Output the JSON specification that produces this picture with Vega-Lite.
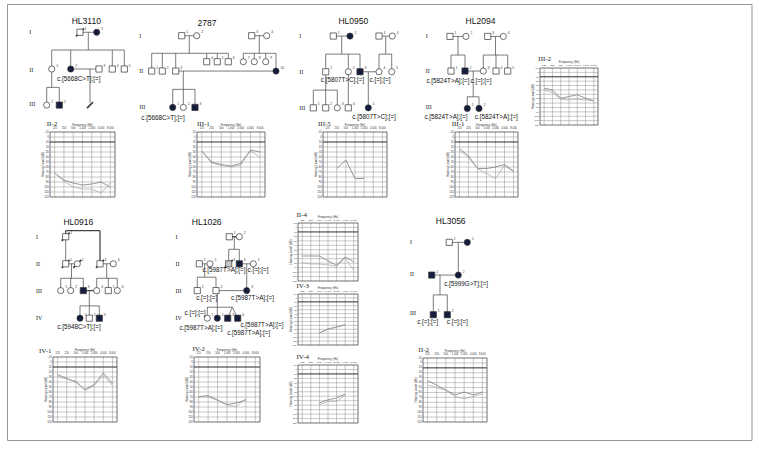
{
"$schema": "https://vega.github.io/schema/vega-lite/v6.json",
"width": 759,
"height": 449,
"autosize": {"type": "none"},
"padding": 0,
"background": "white",
"config": {"view": {"stroke": null}, "font": "Liberation Sans"},
"resolve": {"scale": {"x": "independent", "y": "independent"}},
"datasets": {
 "e": [{}],
 "freqs": [{"hz":125},{"hz":250},{"hz":500},{"hz":1000},{"hz":2000},{"hz":4000},{"hz":8000}],
 "levels": [{"db":0},{"db":10},{"db":20},{"db":30},{"db":40},{"db":50},{"db":60},{"db":70},{"db":80},{"db":90},{"db":100},{"db":110}],
 "ylabels": [{"db":-10},{"db":0},{"db":10},{"db":20},{"db":30},{"db":40},{"db":50},{"db":60},{"db":70},{"db":80},{"db":90},{"db":100},{"db":110},{"db":120}],
 "topLines": [
  {"x":80,"y":0.925,"x2":96.7,"y2":0.925,"rel":"line"},
  {"x":88.3,"y":0.925,"x2":88.3,"y2":1.417,"rel":"line"},
  {"x":51.7,"y":1.417,"x2":124.3,"y2":1.417,"rel":"line"},
  {"x":51.7,"y":1.417,"x2":51.7,"y2":1.944,"rel":"line"},
  {"x":70.7,"y":1.417,"x2":70.7,"y2":1.944,"rel":"line"},
  {"x":112.3,"y":1.417,"x2":112.3,"y2":1.944,"rel":"line"},
  {"x":124.3,"y":1.417,"x2":124.3,"y2":1.944,"rel":"line"},
  {"x":70.7,"y":1.944,"x2":99,"y2":1.944,"rel":"line"},
  {"x":90,"y":1.944,"x2":90,"y2":2.88,"rel":"line"},
  {"x":51.7,"y":1.944,"x2":51.7,"y2":2.453,"rel":"line"},
  {"x":46.7,"y":2.453,"x2":59.3,"y2":2.453,"rel":"line"},
  {"x":46.7,"y":2.453,"x2":46.7,"y2":2.944,"rel":"line"},
  {"x":59.3,"y":2.453,"x2":59.3,"y2":2.944,"rel":"line"},
  {"x":76,"y":1.036,"x2":84,"y2":0.814,"rel":"slash"},
  {"x":87,"y":3.03,"x2":93,"y2":2.86,"rel":"slash"},
  {"x":181.7,"y":1.02,"x2":196.7,"y2":1.02,"rel":"line"},
  {"x":251.7,"y":1.02,"x2":266.7,"y2":1.02,"rel":"line"},
  {"x":189.3,"y":1.02,"x2":189.3,"y2":1.508,"rel":"line"},
  {"x":259.3,"y":1.02,"x2":259.3,"y2":1.508,"rel":"line"},
  {"x":151.7,"y":1.508,"x2":228.3,"y2":1.508,"rel":"line"},
  {"x":243.3,"y":1.508,"x2":276,"y2":1.508,"rel":"line"},
  {"x":151.7,"y":1.508,"x2":151.7,"y2":2,"rel":"line"},
  {"x":162.3,"y":1.508,"x2":162.3,"y2":2,"rel":"line"},
  {"x":175.7,"y":1.508,"x2":175.7,"y2":2,"rel":"line"},
  {"x":206.7,"y":1.508,"x2":206.7,"y2":1.742,"rel":"line"},
  {"x":217.3,"y":1.508,"x2":217.3,"y2":1.742,"rel":"line"},
  {"x":228.3,"y":1.508,"x2":228.3,"y2":1.742,"rel":"line"},
  {"x":243.3,"y":1.508,"x2":243.3,"y2":1.742,"rel":"line"},
  {"x":254.3,"y":1.508,"x2":254.3,"y2":1.742,"rel":"line"},
  {"x":265.7,"y":1.508,"x2":265.7,"y2":1.742,"rel":"line"},
  {"x":276,"y":1.508,"x2":276,"y2":2,"rel":"line"},
  {"x":175.7,"y":2,"x2":276,"y2":2,"rel":"line"},
  {"x":183.3,"y":2,"x2":183.3,"y2":2.508,"rel":"line"},
  {"x":172.7,"y":2.508,"x2":195,"y2":2.508,"rel":"line"},
  {"x":172.7,"y":2.508,"x2":172.7,"y2":3.008,"rel":"line"},
  {"x":183.3,"y":2.508,"x2":183.3,"y2":3.008,"rel":"line"},
  {"x":195,"y":2.508,"x2":195,"y2":3.008,"rel":"line"},
  {"x":333.3,"y":1.03,"x2":350,"y2":1.03,"rel":"line"},
  {"x":379,"y":1.03,"x2":392.3,"y2":1.03,"rel":"line"},
  {"x":341.7,"y":1.03,"x2":341.7,"y2":1.53,"rel":"line"},
  {"x":385.7,"y":1.03,"x2":385.7,"y2":1.53,"rel":"line"},
  {"x":325.7,"y":1.53,"x2":360,"y2":1.53,"rel":"line"},
  {"x":379,"y":1.53,"x2":391.7,"y2":1.53,"rel":"line"},
  {"x":325.7,"y":1.53,"x2":325.7,"y2":2.02,"rel":"line"},
  {"x":348.3,"y":1.53,"x2":348.3,"y2":2.02,"rel":"line"},
  {"x":360,"y":1.53,"x2":360,"y2":2.02,"rel":"line"},
  {"x":379,"y":1.53,"x2":379,"y2":2.02,"rel":"line"},
  {"x":391.7,"y":1.53,"x2":391.7,"y2":2.02,"rel":"line"},
  {"x":360,"y":2.02,"x2":379,"y2":2.02,"rel":"line"},
  {"x":368.3,"y":2.02,"x2":368.3,"y2":3.02,"rel":"line"},
  {"x":325.7,"y":2.02,"x2":325.7,"y2":3.02,"rel":"line"},
  {"x":313.3,"y":2.528,"x2":337.3,"y2":2.528,"rel":"line"},
  {"x":313.3,"y":2.528,"x2":313.3,"y2":3.02,"rel":"line"},
  {"x":337.3,"y":2.528,"x2":337.3,"y2":3.02,"rel":"line"},
  {"x":348.3,"y":2.02,"x2":348.3,"y2":3.02,"rel":"line"},
  {"x":450,"y":1.04,"x2":466,"y2":1.04,"rel":"line"},
  {"x":487.7,"y":1.04,"x2":503.3,"y2":1.04,"rel":"line"},
  {"x":458,"y":1.04,"x2":458,"y2":1.556,"rel":"line"},
  {"x":495.5,"y":1.04,"x2":495.5,"y2":1.556,"rel":"line"},
  {"x":451,"y":1.556,"x2":465,"y2":1.556,"rel":"line"},
  {"x":483.3,"y":1.556,"x2":507.7,"y2":1.556,"rel":"line"},
  {"x":451,"y":1.556,"x2":451,"y2":2,"rel":"line"},
  {"x":465,"y":1.556,"x2":465,"y2":2,"rel":"line"},
  {"x":483.3,"y":1.556,"x2":483.3,"y2":2,"rel":"line"},
  {"x":496,"y":1.556,"x2":496,"y2":2,"rel":"line"},
  {"x":507.7,"y":1.556,"x2":507.7,"y2":2,"rel":"line"},
  {"x":465,"y":2,"x2":483.3,"y2":2,"rel":"line"},
  {"x":473.2,"y":2,"x2":473.2,"y2":2.714,"rel":"line"},
  {"x":467.3,"y":2.714,"x2":479,"y2":2.714,"rel":"line"},
  {"x":467.3,"y":2.714,"x2":467.3,"y2":3.036,"rel":"line"},
  {"x":479,"y":2.714,"x2":479,"y2":3.036,"rel":"line"}
 ],
 "topPeople": [
  {"x":80,"y":0.925,"sex":"M","st":"U","id":"1"},
  {"x":96.7,"y":0.925,"sex":"F","st":"A","id":"2"},
  {"x":51.7,"y":1.944,"sex":"F","st":"U","id":"1"},
  {"x":70.7,"y":1.944,"sex":"F","st":"A","id":"2"},
  {"x":99,"y":1.944,"sex":"M","st":"U","id":"3"},
  {"x":112.3,"y":1.944,"sex":"M","st":"U","id":"4"},
  {"x":124.3,"y":1.944,"sex":"M","st":"U","id":"5"},
  {"x":46.7,"y":2.944,"sex":"F","st":"U","id":"1"},
  {"x":59.3,"y":2.944,"sex":"M","st":"A","id":"2"},
  {"x":181.7,"y":1.02,"sex":"M","st":"U","id":"1"},
  {"x":196.7,"y":1.02,"sex":"F","st":"U","id":"2"},
  {"x":251.7,"y":1.02,"sex":"M","st":"U","id":"3"},
  {"x":266.7,"y":1.02,"sex":"F","st":"U","id":"4"},
  {"x":151.7,"y":2,"sex":"M","st":"U","id":"1"},
  {"x":162.3,"y":2,"sex":"M","st":"U","id":"2"},
  {"x":175.7,"y":2,"sex":"M","st":"U","id":"3"},
  {"x":206.7,"y":1.742,"sex":"M","st":"U","id":"4"},
  {"x":217.3,"y":1.742,"sex":"M","st":"U","id":"5"},
  {"x":228.3,"y":1.742,"sex":"M","st":"U","id":"6"},
  {"x":243.3,"y":1.742,"sex":"F","st":"U","id":"7"},
  {"x":254.3,"y":1.742,"sex":"F","st":"U","id":"8"},
  {"x":265.7,"y":1.742,"sex":"F","st":"U","id":"9"},
  {"x":276,"y":2,"sex":"F","st":"A","id":"10"},
  {"x":172.7,"y":3.008,"sex":"F","st":"A","id":"1"},
  {"x":183.3,"y":3.008,"sex":"F","st":"U","id":"2"},
  {"x":195,"y":3.008,"sex":"M","st":"A","id":"3"},
  {"x":333.3,"y":1.03,"sex":"M","st":"U","id":"1"},
  {"x":350,"y":1.03,"sex":"F","st":"A","id":"2"},
  {"x":379,"y":1.03,"sex":"M","st":"U","id":"3"},
  {"x":392.3,"y":1.03,"sex":"F","st":"U","id":"4"},
  {"x":325.7,"y":2.02,"sex":"M","st":"U","id":"1"},
  {"x":348.3,"y":2.02,"sex":"F","st":"U","id":"2"},
  {"x":360,"y":2.02,"sex":"M","st":"A","id":"3"},
  {"x":379,"y":2.02,"sex":"F","st":"U","id":"4"},
  {"x":391.7,"y":2.02,"sex":"F","st":"U","id":"5"},
  {"x":313.3,"y":3.02,"sex":"M","st":"U","id":"1"},
  {"x":325.7,"y":3.02,"sex":"M","st":"U","id":"2"},
  {"x":337.3,"y":3.02,"sex":"F","st":"U","id":"3"},
  {"x":348.3,"y":3.02,"sex":"M","st":"U","id":"4"},
  {"x":368.3,"y":3.02,"sex":"F","st":"A","id":"5"},
  {"x":450,"y":1.04,"sex":"M","st":"U","id":"1"},
  {"x":466,"y":1.04,"sex":"F","st":"U","id":"2"},
  {"x":487.7,"y":1.04,"sex":"M","st":"U","id":"3"},
  {"x":503.3,"y":1.04,"sex":"F","st":"U","id":"4"},
  {"x":451,"y":2,"sex":"M","st":"U","id":"1"},
  {"x":465,"y":2,"sex":"M","st":"A","id":"2"},
  {"x":483.3,"y":2,"sex":"F","st":"U","id":"3"},
  {"x":496,"y":2,"sex":"M","st":"U","id":"4"},
  {"x":507.7,"y":2,"sex":"M","st":"U","id":"5"},
  {"x":467.3,"y":3.036,"sex":"F","st":"A","id":"1"},
  {"x":479,"y":3.036,"sex":"F","st":"A","id":"2"}
 ],
 "topText": [
  {"x":86.3,"y":0.603,"t":"HL3110","k":"title"},
  {"x":207,"y":0.658,"t":"2787","k":"title"},
  {"x":353.3,"y":0.603,"t":"HL0950","k":"title"},
  {"x":480.5,"y":0.603,"t":"HL2094","k":"title"},
  {"x":29.3,"y":0.925,"t":"I","k":"gen"},
  {"x":29.3,"y":1.972,"t":"II","k":"gen"},
  {"x":29.3,"y":2.917,"t":"III","k":"gen"},
  {"x":139.3,"y":1.02,"t":"I","k":"gen"},
  {"x":139.3,"y":2.0,"t":"II","k":"gen"},
  {"x":139.3,"y":2.99,"t":"III","k":"gen"},
  {"x":299.3,"y":1.03,"t":"I","k":"gen"},
  {"x":299.3,"y":2.02,"t":"II","k":"gen"},
  {"x":299.3,"y":3.02,"t":"III","k":"gen"},
  {"x":425.7,"y":1.04,"t":"I","k":"gen"},
  {"x":425.7,"y":2.0,"t":"II","k":"gen"},
  {"x":425.7,"y":2.99,"t":"III","k":"gen"},
  {"x":78.7,"y":2.222,"t":"c.[5668C>T];[=]","k":"geno"},
  {"x":163,"y":3.314,"t":"c.[5668C>T];[=]","k":"geno"},
  {"x":342.5,"y":2.25,"t":"c.[5807T>C];[=]","k":"geno"},
  {"x":380,"y":2.25,"t":"c.[=];[=]","k":"geno"},
  {"x":374,"y":3.27,"t":"c.[5807T>C];[=]","k":"geno"},
  {"x":448,"y":2.27,"t":"c.[5824T>A];[=]","k":"geno"},
  {"x":481,"y":2.27,"t":"c.[=];[=]","k":"geno"},
  {"x":446,"y":3.286,"t":"c.[5824T>A];[=]","k":"geno"},
  {"x":496.3,"y":3.286,"t":"c.[5824T>A];[=]","k":"geno"}
 ],
 "botLines": [
  {"x":65.7,"y":0.765,"x2":100,"y2":0.765,"rel":"consang"},
  {"x":100,"y":0.765,"x2":100,"y2":2,"rel":"consang"},
  {"x":65.7,"y":0.765,"x2":65.7,"y2":0.99,"rel":"consang"},
  {"x":65.7,"y":0.99,"x2":65.7,"y2":2,"rel":"line"},
  {"x":65.7,"y":2,"x2":77.3,"y2":2,"rel":"line"},
  {"x":100,"y":2,"x2":113.3,"y2":2,"rel":"line"},
  {"x":71.5,"y":2,"x2":71.5,"y2":2.54,"rel":"line"},
  {"x":106.7,"y":2,"x2":106.7,"y2":2.54,"rel":"line"},
  {"x":60.7,"y":2.54,"x2":83.3,"y2":2.54,"rel":"line"},
  {"x":96.7,"y":2.54,"x2":117.3,"y2":2.54,"rel":"line"},
  {"x":60.7,"y":2.54,"x2":60.7,"y2":3,"rel":"line"},
  {"x":70.7,"y":2.54,"x2":70.7,"y2":3,"rel":"line"},
  {"x":83.3,"y":2.54,"x2":83.3,"y2":3,"rel":"line"},
  {"x":96.7,"y":2.54,"x2":96.7,"y2":3,"rel":"line"},
  {"x":108.3,"y":2.54,"x2":108.3,"y2":3,"rel":"line"},
  {"x":117.3,"y":2.54,"x2":117.3,"y2":3,"rel":"line"},
  {"x":83.3,"y":3,"x2":96.7,"y2":3,"rel":"consang"},
  {"x":89.3,"y":3,"x2":89.3,"y2":3.57,"rel":"line"},
  {"x":80,"y":3.57,"x2":99.3,"y2":3.57,"rel":"line"},
  {"x":80,"y":3.57,"x2":80,"y2":4.03,"rel":"line"},
  {"x":89.3,"y":3.57,"x2":89.3,"y2":4.03,"rel":"line"},
  {"x":99.3,"y":3.57,"x2":99.3,"y2":4.03,"rel":"line"},
  {"x":61.7,"y":1.14,"x2":69.7,"y2":0.84,"rel":"slash"},
  {"x":61.7,"y":2.15,"x2":69.7,"y2":1.85,"rel":"slash"},
  {"x":73.3,"y":2.15,"x2":81.3,"y2":1.85,"rel":"slash"},
  {"x":96,"y":2.15,"x2":104,"y2":1.85,"rel":"slash"},
  {"x":229.3,"y":0.99,"x2":239.3,"y2":0.99,"rel":"consang"},
  {"x":234.3,"y":0.99,"x2":234.3,"y2":1.46,"rel":"line"},
  {"x":228.7,"y":1.46,"x2":239.3,"y2":1.46,"rel":"line"},
  {"x":228.7,"y":1.46,"x2":228.7,"y2":2,"rel":"line"},
  {"x":239.3,"y":1.46,"x2":239.3,"y2":2,"rel":"line"},
  {"x":199.3,"y":2,"x2":210,"y2":2,"rel":"line"},
  {"x":204.7,"y":2,"x2":204.7,"y2":2.5,"rel":"line"},
  {"x":197.3,"y":2.5,"x2":216,"y2":2.5,"rel":"line"},
  {"x":197.3,"y":2.5,"x2":197.3,"y2":3,"rel":"line"},
  {"x":216,"y":2.5,"x2":216,"y2":3,"rel":"line"},
  {"x":239.3,"y":2,"x2":253.3,"y2":2,"rel":"line"},
  {"x":246.7,"y":2,"x2":246.7,"y2":3,"rel":"line"},
  {"x":216,"y":3,"x2":246.7,"y2":3,"rel":"line"},
  {"x":217.3,"y":3,"x2":217.3,"y2":3.62,"rel":"line"},
  {"x":207.3,"y":3.62,"x2":232.3,"y2":3.62,"rel":"line"},
  {"x":207.3,"y":3.62,"x2":207.3,"y2":4.03,"rel":"line"},
  {"x":217.3,"y":3.62,"x2":217.3,"y2":4.03,"rel":"line"},
  {"x":232.3,"y":3.62,"x2":227.7,"y2":4.03,"rel":"line"},
  {"x":232.3,"y":3.62,"x2":237.7,"y2":4.03,"rel":"line"},
  {"x":224.7,"y":2.15,"x2":232.7,"y2":1.85,"rel":"slash"},
  {"x":449.3,"y":1.2,"x2":467.3,"y2":1.2,"rel":"line"},
  {"x":458.3,"y":1.2,"x2":458.3,"y2":2.42,"rel":"line"},
  {"x":431.7,"y":2.42,"x2":458.3,"y2":2.42,"rel":"line"},
  {"x":440,"y":2.42,"x2":440,"y2":3.16,"rel":"line"},
  {"x":433.3,"y":3.16,"x2":447.3,"y2":3.16,"rel":"line"},
  {"x":433.3,"y":3.16,"x2":433.3,"y2":3.9,"rel":"line"},
  {"x":447.3,"y":3.16,"x2":447.3,"y2":3.9,"rel":"line"}
 ],
 "botPeople": [
  {"x":65.7,"y":0.99,"sex":"M","st":"U","id":"1"},
  {"x":65.7,"y":2,"sex":"M","st":"U","id":"1"},
  {"x":77.3,"y":2,"sex":"F","st":"U","id":"2"},
  {"x":100,"y":2,"sex":"M","st":"U","id":"3"},
  {"x":113.3,"y":2,"sex":"F","st":"U","id":"4"},
  {"x":60.7,"y":3,"sex":"F","st":"U","id":"1"},
  {"x":70.7,"y":3,"sex":"F","st":"U","id":"2"},
  {"x":83.3,"y":3,"sex":"M","st":"A","id":"3"},
  {"x":96.7,"y":3,"sex":"F","st":"U","id":"4"},
  {"x":108.3,"y":3,"sex":"M","st":"U","id":"5"},
  {"x":117.3,"y":3,"sex":"F","st":"U","id":"6"},
  {"x":80,"y":4.03,"sex":"F","st":"A","id":"1"},
  {"x":89.3,"y":4.03,"sex":"M","st":"U","id":"2"},
  {"x":99.3,"y":4.03,"sex":"M","st":"A","id":"3"},
  {"x":229.3,"y":0.99,"sex":"M","st":"U","id":"1"},
  {"x":239.3,"y":0.99,"sex":"F","st":"U","id":"2"},
  {"x":199.3,"y":2,"sex":"M","st":"U","id":"1"},
  {"x":210,"y":2,"sex":"F","st":"U","id":"2"},
  {"x":228.7,"y":2,"sex":"M","st":"G","id":"3"},
  {"x":239.3,"y":2,"sex":"M","st":"A","id":"4"},
  {"x":253.3,"y":2,"sex":"F","st":"U","id":"5"},
  {"x":197.3,"y":3,"sex":"M","st":"U","id":"1"},
  {"x":216,"y":3,"sex":"M","st":"U","id":"2"},
  {"x":246.7,"y":3,"sex":"F","st":"A","id":"3"},
  {"x":207.3,"y":4.03,"sex":"F","st":"U","id":"1"},
  {"x":217.3,"y":4.03,"sex":"F","st":"A","id":"2"},
  {"x":227.7,"y":4.03,"sex":"M","st":"A","id":"3"},
  {"x":237.7,"y":4.03,"sex":"M","st":"A","id":"4"},
  {"x":449.3,"y":1.2,"sex":"M","st":"U","id":"1"},
  {"x":467.3,"y":1.2,"sex":"F","st":"A","id":"2"},
  {"x":431.7,"y":2.42,"sex":"M","st":"A","id":"1"},
  {"x":458.3,"y":2.42,"sex":"F","st":"A","id":"2"},
  {"x":433.3,"y":3.9,"sex":"M","st":"A","id":"1"},
  {"x":447.3,"y":3.9,"sex":"M","st":"A","id":"2"}
 ],
 "botText": [
  {"x":78.3,"y":0.45,"t":"HL0916","k":"title"},
  {"x":206.7,"y":0.45,"t":"HL1026","k":"title"},
  {"x":450.7,"y":0.403,"t":"HL3056","k":"title"},
  {"x":36,"y":0.99,"t":"I","k":"gen"},
  {"x":36,"y":2,"t":"II","k":"gen"},
  {"x":36,"y":3,"t":"III","k":"gen"},
  {"x":36,"y":4.03,"t":"IV","k":"gen"},
  {"x":175.5,"y":0.99,"t":"I","k":"gen"},
  {"x":175.5,"y":2,"t":"II","k":"gen"},
  {"x":175.5,"y":3,"t":"III","k":"gen"},
  {"x":175.5,"y":4.03,"t":"IV","k":"gen"},
  {"x":410,"y":1.2,"t":"I","k":"gen"},
  {"x":410,"y":2.39,"t":"II","k":"gen"},
  {"x":410,"y":3.85,"t":"III","k":"gen"},
  {"x":79,"y":4.35,"t":"c.[5948C>T];[=]","k":"geno"},
  {"x":224,"y":2.24,"t":"c.[5987T>A];[=]","k":"geno"},
  {"x":258,"y":2.24,"t":"c.[=];[=]","k":"geno"},
  {"x":206.7,"y":3.29,"t":"c.[=];[=]","k":"geno"},
  {"x":252.5,"y":3.29,"t":"c.[5987T>A];[=]","k":"geno"},
  {"x":195,"y":3.85,"t":"c.[=];[=]","k":"geno"},
  {"x":201,"y":4.41,"t":"c.[5987T>A];[=]","k":"geno"},
  {"x":248.7,"y":4.57,"t":"c.[5987T>A];[=]","k":"geno"},
  {"x":262,"y":4.28,"t":"c.[5987T>A];[=]","k":"geno"},
  {"x":466,"y":2.76,"t":"c.[5999G>T];[=]","k":"geno"},
  {"x":427.7,"y":4.16,"t":"c.[=];[=]","k":"geno"},
  {"x":457.3,"y":4.16,"t":"c.[=];[=]","k":"geno"}
 ],
 "a1": [
  {"hz":125,"db":72,"ear":"A"},{"hz":250,"db":86,"ear":"A"},{"hz":500,"db":92,"ear":"A"},{"hz":1000,"db":96,"ear":"A"},{"hz":2000,"db":94,"ear":"A"},{"hz":4000,"db":90,"ear":"A"},{"hz":8000,"db":100,"ear":"A"},
  {"hz":125,"db":72,"ear":"B"},{"hz":250,"db":88,"ear":"B"},{"hz":500,"db":100,"ear":"B"},{"hz":1000,"db":104,"ear":"B"},{"hz":2000,"db":104,"ear":"B"},{"hz":4000,"db":112,"ear":"B"},{"hz":8000,"db":92,"ear":"B"}
 ],
 "a2": [
  {"hz":125,"db":28,"ear":"A"},{"hz":250,"db":50,"ear":"A"},{"hz":500,"db":55,"ear":"A"},{"hz":1000,"db":58,"ear":"A"},{"hz":2000,"db":53,"ear":"A"},{"hz":4000,"db":26,"ear":"A"},{"hz":8000,"db":30,"ear":"A"},
  {"hz":125,"db":28,"ear":"B"},{"hz":250,"db":52,"ear":"B"},{"hz":500,"db":57,"ear":"B"},{"hz":1000,"db":60,"ear":"B"},{"hz":2000,"db":56,"ear":"B"},{"hz":4000,"db":28,"ear":"B"},{"hz":8000,"db":40,"ear":"B"}
 ],
 "a3": [
  {"hz":250,"db":63,"ear":"A"},{"hz":500,"db":46,"ear":"A"},{"hz":1000,"db":83,"ear":"A"},{"hz":2000,"db":83,"ear":"A"}
 ],
 "a4": [
  {"hz":125,"db":23,"ear":"A"},{"hz":250,"db":38,"ear":"A"},{"hz":500,"db":63,"ear":"A"},{"hz":1000,"db":63,"ear":"A"},{"hz":2000,"db":60,"ear":"A"},{"hz":4000,"db":55,"ear":"A"},{"hz":8000,"db":68,"ear":"A"},
  {"hz":125,"db":27,"ear":"B"},{"hz":250,"db":41,"ear":"B"},{"hz":500,"db":63,"ear":"B"},{"hz":1000,"db":73,"ear":"B"},{"hz":2000,"db":83,"ear":"B"},{"hz":4000,"db":57,"ear":"B"},{"hz":8000,"db":70,"ear":"B"}
 ],
 "a5": [
  {"hz":125,"db":36,"ear":"A"},{"hz":250,"db":40,"ear":"A"},{"hz":500,"db":59,"ear":"A"},{"hz":1000,"db":55,"ear":"A"},{"hz":2000,"db":51,"ear":"A"},{"hz":4000,"db":59,"ear":"A"},{"hz":8000,"db":65,"ear":"A"},
  {"hz":125,"db":40,"ear":"B"},{"hz":250,"db":46,"ear":"B"},{"hz":500,"db":61,"ear":"B"},{"hz":1000,"db":63,"ear":"B"},{"hz":2000,"db":61,"ear":"B"},{"hz":4000,"db":63,"ear":"B"},{"hz":8000,"db":65,"ear":"B"}
 ],
 "a6": [
  {"hz":125,"db":25,"ear":"A"},{"hz":250,"db":33,"ear":"A"},{"hz":500,"db":40,"ear":"A"},{"hz":1000,"db":55,"ear":"A"},{"hz":2000,"db":45,"ear":"A"},{"hz":4000,"db":22,"ear":"A"},{"hz":8000,"db":43,"ear":"A"},
  {"hz":125,"db":29,"ear":"B"},{"hz":250,"db":34,"ear":"B"},{"hz":500,"db":38,"ear":"B"},{"hz":1000,"db":57,"ear":"B"},{"hz":2000,"db":47,"ear":"B"},{"hz":4000,"db":27,"ear":"B"},{"hz":8000,"db":47,"ear":"B"}
 ],
 "a7": [
  {"hz":125,"db":69,"ear":"A"},{"hz":250,"db":67,"ear":"A"},{"hz":500,"db":76,"ear":"A"},{"hz":1000,"db":85,"ear":"A"},{"hz":2000,"db":82,"ear":"A"},{"hz":4000,"db":76,"ear":"A"},
  {"hz":125,"db":70,"ear":"B"},{"hz":250,"db":70,"ear":"B"},{"hz":500,"db":77,"ear":"B"},{"hz":1000,"db":86,"ear":"B"},{"hz":2000,"db":89,"ear":"B"},{"hz":4000,"db":73,"ear":"B"}
 ],
 "a8": [
  {"hz":125,"db":64,"ear":"A"},{"hz":250,"db":64,"ear":"A"},{"hz":500,"db":64,"ear":"A"},{"hz":1000,"db":75,"ear":"A"},{"hz":2000,"db":85,"ear":"A"},{"hz":4000,"db":66,"ear":"A"},{"hz":8000,"db":77,"ear":"A"},
  {"hz":125,"db":79,"ear":"B"},{"hz":250,"db":82,"ear":"B"},{"hz":500,"db":82,"ear":"B"},{"hz":1000,"db":84,"ear":"B"},{"hz":2000,"db":87,"ear":"B"},{"hz":4000,"db":69,"ear":"B"},{"hz":8000,"db":96,"ear":"B"}
 ],
 "a9": [
  {"hz":500,"db":89,"ear":"A"},{"hz":1000,"db":79,"ear":"A"},{"hz":2000,"db":74,"ear":"A"},{"hz":4000,"db":68,"ear":"A"},
  {"hz":500,"db":90,"ear":"B"},{"hz":1000,"db":80,"ear":"B"},{"hz":2000,"db":75,"ear":"B"},{"hz":4000,"db":69,"ear":"B"}
 ],
 "a10": [
  {"hz":500,"db":75,"ear":"A"},{"hz":1000,"db":68,"ear":"A"},{"hz":2000,"db":64,"ear":"A"},{"hz":4000,"db":55,"ear":"A"},
  {"hz":500,"db":79,"ear":"B"},{"hz":1000,"db":72,"ear":"B"},{"hz":2000,"db":72,"ear":"B"},{"hz":4000,"db":57,"ear":"B"}
 ],
 "a11": [
  {"hz":125,"db":36,"ear":"A"},{"hz":250,"db":45,"ear":"A"},{"hz":500,"db":55,"ear":"A"},{"hz":1000,"db":65,"ear":"A"},{"hz":2000,"db":59,"ear":"A"},{"hz":4000,"db":65,"ear":"A"},{"hz":8000,"db":59,"ear":"A"},
  {"hz":125,"db":45,"ear":"B"},{"hz":250,"db":50,"ear":"B"},{"hz":500,"db":56,"ear":"B"},{"hz":1000,"db":68,"ear":"B"},{"hz":2000,"db":73,"ear":"B"},{"hz":4000,"db":68,"ear":"B"},{"hz":8000,"db":63,"ear":"B"}
 ]
},
"layer": [
 {"layer": [
   {"data": {"name": "e"}, "mark": {"type": "rect", "filled": false, "stroke": "#8a8a8a", "strokeWidth": 0.9}, "encoding": {
     "x": {"datum": 7.5, "type": "quantitative", "scale": {"domain": [0, 759], "nice": false, "zero": false}, "axis": null},
     "x2": {"datum": 752},
     "y": {"datum": 0.155, "type": "quantitative", "scale": {"domain": [0.03, 3.69], "range": [0, 132], "nice": false, "zero": false}, "axis": null},
     "y2": {"datum": 12.244}}},
   {"data": {"name": "topLines"}, "mark": {"type": "rule", "color": "#444"}, "encoding": {
     "x": {"field": "x", "type": "quantitative", "scale": {"domain": [0, 759], "nice": false, "zero": false}, "axis": null},
     "y": {"field": "y", "type": "quantitative", "scale": {"domain": [0.03, 3.69], "range": [0, 132], "nice": false, "zero": false}, "axis": null},
     "x2": {"field": "x2"}, "y2": {"field": "y2"},
     "strokeWidth": {"field": "rel", "type": "nominal", "scale": {"domain": ["line", "consang", "slash"], "range": [0.7, 1.8, 0.7]}, "legend": null}}},
   {"data": {"name": "topPeople"}, "mark": {"type": "point", "filled": true, "size": 38, "stroke": "#333", "strokeWidth": 0.7, "opacity": 1}, "encoding": {
     "x": {"field": "x", "type": "quantitative", "scale": {"domain": [0, 759], "nice": false, "zero": false}, "axis": null},
     "y": {"field": "y", "type": "quantitative", "scale": {"domain": [0.03, 3.69], "range": [0, 132], "nice": false, "zero": false}, "axis": null},
     "shape": {"field": "sex", "type": "nominal", "scale": {"domain": ["M", "F"], "range": ["square", "circle"]}, "legend": null},
     "fill": {"field": "st", "type": "nominal", "scale": {"domain": ["A", "U", "G"], "range": ["#151d3f", "#ffffff", "#c8c8c8"]}, "legend": null}}},
   {"data": {"name": "topPeople"}, "mark": {"type": "text", "fontSize": 3.3, "dx": 4.5, "dy": -3.5, "align": "left", "color": "#333"}, "encoding": {
     "x": {"field": "x", "type": "quantitative", "scale": {"domain": [0, 759], "nice": false, "zero": false}, "axis": null},
     "y": {"field": "y", "type": "quantitative", "scale": {"domain": [0.03, 3.69], "range": [0, 132], "nice": false, "zero": false}, "axis": null},
     "text": {"field": "id"}}},
   {"data": {"name": "topText"}, "transform": [{"filter": "datum.k === 'title'"}], "mark": {"type": "text", "fontSize": 8.5, "font": "Liberation Sans", "color": "#111", "baseline": "middle"}, "encoding": {
     "x": {"field": "x", "type": "quantitative", "scale": {"domain": [0, 759], "nice": false, "zero": false}, "axis": null},
     "y": {"field": "y", "type": "quantitative", "scale": {"domain": [0.03, 3.69], "range": [0, 132], "nice": false, "zero": false}, "axis": null},
     "text": {"field": "t"}}},
   {"data": {"name": "topText"}, "transform": [{"filter": "datum.k === 'gen'"}], "mark": {"type": "text", "fontSize": 6, "font": "Liberation Serif", "color": "#222", "align": "left", "baseline": "middle"}, "encoding": {
     "x": {"field": "x", "type": "quantitative", "scale": {"domain": [0, 759], "nice": false, "zero": false}, "axis": null},
     "y": {"field": "y", "type": "quantitative", "scale": {"domain": [0.03, 3.69], "range": [0, 132], "nice": false, "zero": false}, "axis": null},
     "text": {"field": "t"}}},
   {"data": {"name": "topText"}, "transform": [{"filter": "datum.k === 'geno'"}], "mark": {"type": "text", "fontSize": 6.3, "font": "Liberation Sans", "color": "#111", "baseline": "middle"}, "encoding": {
     "x": {"field": "x", "type": "quantitative", "scale": {"domain": [0, 759], "nice": false, "zero": false}, "axis": null},
     "y": {"field": "y", "type": "quantitative", "scale": {"domain": [0.03, 3.69], "range": [0, 132], "nice": false, "zero": false}, "axis": null},
     "text": {"field": "t"}}}
 ]},
 {"layer": [
   {"data": {"name": "botLines"}, "mark": {"type": "rule", "color": "#444"}, "encoding": {
     "x": {"field": "x", "type": "quantitative", "scale": {"domain": [0, 759], "nice": false, "zero": false}, "axis": null},
     "y": {"field": "y", "type": "quantitative", "scale": {"domain": [-0.4925, 5.4776], "range": [197, 357], "nice": false, "zero": false}, "axis": null},
     "x2": {"field": "x2"}, "y2": {"field": "y2"},
     "strokeWidth": {"field": "rel", "type": "nominal", "scale": {"domain": ["line", "consang", "slash"], "range": [0.7, 1.8, 0.7]}, "legend": null}}},
   {"data": {"name": "botPeople"}, "mark": {"type": "point", "filled": true, "size": 38, "stroke": "#333", "strokeWidth": 0.7, "opacity": 1}, "encoding": {
     "x": {"field": "x", "type": "quantitative", "scale": {"domain": [0, 759], "nice": false, "zero": false}, "axis": null},
     "y": {"field": "y", "type": "quantitative", "scale": {"domain": [-0.4925, 5.4776], "range": [197, 357], "nice": false, "zero": false}, "axis": null},
     "shape": {"field": "sex", "type": "nominal", "scale": {"domain": ["M", "F"], "range": ["square", "circle"]}, "legend": null},
     "fill": {"field": "st", "type": "nominal", "scale": {"domain": ["A", "U", "G"], "range": ["#151d3f", "#ffffff", "#c8c8c8"]}, "legend": null}}},
   {"data": {"name": "botPeople"}, "mark": {"type": "text", "fontSize": 3.3, "dx": 4.5, "dy": -3.5, "align": "left", "color": "#333"}, "encoding": {
     "x": {"field": "x", "type": "quantitative", "scale": {"domain": [0, 759], "nice": false, "zero": false}, "axis": null},
     "y": {"field": "y", "type": "quantitative", "scale": {"domain": [-0.4925, 5.4776], "range": [197, 357], "nice": false, "zero": false}, "axis": null},
     "text": {"field": "id"}}},
   {"data": {"name": "botText"}, "transform": [{"filter": "datum.k === 'title'"}], "mark": {"type": "text", "fontSize": 8.5, "font": "Liberation Sans", "color": "#111", "baseline": "middle"}, "encoding": {
     "x": {"field": "x", "type": "quantitative", "scale": {"domain": [0, 759], "nice": false, "zero": false}, "axis": null},
     "y": {"field": "y", "type": "quantitative", "scale": {"domain": [-0.4925, 5.4776], "range": [197, 357], "nice": false, "zero": false}, "axis": null},
     "text": {"field": "t"}}},
   {"data": {"name": "botText"}, "transform": [{"filter": "datum.k === 'gen'"}], "mark": {"type": "text", "fontSize": 6, "font": "Liberation Serif", "color": "#222", "align": "left", "baseline": "middle"}, "encoding": {
     "x": {"field": "x", "type": "quantitative", "scale": {"domain": [0, 759], "nice": false, "zero": false}, "axis": null},
     "y": {"field": "y", "type": "quantitative", "scale": {"domain": [-0.4925, 5.4776], "range": [197, 357], "nice": false, "zero": false}, "axis": null},
     "text": {"field": "t"}}},
   {"data": {"name": "botText"}, "transform": [{"filter": "datum.k === 'geno'"}], "mark": {"type": "text", "fontSize": 6.3, "font": "Liberation Sans", "color": "#111", "baseline": "middle"}, "encoding": {
     "x": {"field": "x", "type": "quantitative", "scale": {"domain": [0, 759], "nice": false, "zero": false}, "axis": null},
     "y": {"field": "y", "type": "quantitative", "scale": {"domain": [-0.4925, 5.4776], "range": [197, 357], "nice": false, "zero": false}, "axis": null},
     "text": {"field": "t"}}}
 ]},

 {"layer": [
  {"data": {"name": "freqs"}, "mark": {"type": "rule", "stroke": "#777", "strokeWidth": 0.4}, "encoding": {"x": {"field": "hz", "type": "quantitative", "scale": {"type": "log", "base": 2, "domain": [88.39, 11313.7], "range": [50, 115], "nice": false}, "axis": null}, "y": {"datum": -10, "type": "quantitative", "scale": {"domain": [-10, 120], "range": [132, 197], "nice": false, "zero": false}, "axis": null}, "y2": {"datum": 120}}},
  {"data": {"name": "levels"}, "mark": {"type": "rule", "stroke": "#777", "strokeWidth": 0.4}, "encoding": {"y": {"field": "db", "type": "quantitative", "scale": {"domain": [-10, 120], "range": [132, 197], "nice": false, "zero": false}, "axis": null}, "x": {"datum": 88.39, "type": "quantitative", "scale": {"type": "log", "base": 2, "domain": [88.39, 11313.7], "range": [50, 115], "nice": false}, "axis": null}, "x2": {"datum": 11313.7}}},
  {"data": {"name": "e"}, "mark": {"type": "rule", "stroke": "#333", "strokeWidth": 0.9}, "encoding": {"y": {"datum": 10, "type": "quantitative", "scale": {"domain": [-10, 120], "range": [132, 197], "nice": false, "zero": false}, "axis": null}, "x": {"datum": 88.39, "type": "quantitative", "scale": {"type": "log", "base": 2, "domain": [88.39, 11313.7], "range": [50, 115], "nice": false}, "axis": null}, "x2": {"datum": 11313.7}}},
  {"data": {"name": "e"}, "mark": {"type": "rect", "filled": false, "stroke": "#333", "strokeWidth": 0.7}, "encoding": {"x": {"datum": 88.39, "type": "quantitative", "scale": {"type": "log", "base": 2, "domain": [88.39, 11313.7], "range": [50, 115], "nice": false}, "axis": null}, "x2": {"datum": 11313.7}, "y": {"datum": -10, "type": "quantitative", "scale": {"domain": [-10, 120], "range": [132, 197], "nice": false, "zero": false}, "axis": null}, "y2": {"datum": 120}}},
  {"data": {"name": "a1"}, "mark": {"type": "line", "strokeWidth": 0.7}, "encoding": {"x": {"field": "hz", "type": "quantitative", "scale": {"type": "log", "base": 2, "domain": [88.39, 11313.7], "range": [50, 115], "nice": false}, "axis": null}, "y": {"field": "db", "type": "quantitative", "scale": {"domain": [-10, 120], "range": [132, 197], "nice": false, "zero": false}, "axis": null}, "color": {"field": "ear", "type": "nominal", "scale": {"domain": ["A", "B"], "range": ["#6f6f6f", "#a5a5a5"]}, "legend": null}}},
  {"data": {"name": "freqs"}, "mark": {"type": "text", "fontSize": 2.7, "baseline": "bottom", "dy": -1.2, "color": "#333"}, "encoding": {"x": {"field": "hz", "type": "quantitative", "scale": {"type": "log", "base": 2, "domain": [88.39, 11313.7], "range": [50, 115], "nice": false}, "axis": null}, "y": {"datum": -10, "type": "quantitative", "scale": {"domain": [-10, 120], "range": [132, 197], "nice": false, "zero": false}, "axis": null}, "text": {"field": "hz", "type": "quantitative", "format": ","}}},
  {"data": {"name": "ylabels"}, "mark": {"type": "text", "fontSize": 2.7, "align": "right", "baseline": "middle", "dx": -1.2, "color": "#333"}, "encoding": {"y": {"field": "db", "type": "quantitative", "scale": {"domain": [-10, 120], "range": [132, 197], "nice": false, "zero": false}, "axis": null}, "x": {"datum": 88.39, "type": "quantitative", "scale": {"type": "log", "base": 2, "domain": [88.39, 11313.7], "range": [50, 115], "nice": false}, "axis": null}, "text": {"field": "db", "type": "quantitative"}}},
  {"data": {"name": "e"}, "mark": {"type": "text", "text": "Frequency (Hz)", "fontSize": 3, "baseline": "bottom", "dy": -4.8, "color": "#333"}, "encoding": {"x": {"datum": 1000, "type": "quantitative", "scale": {"type": "log", "base": 2, "domain": [88.39, 11313.7], "range": [50, 115], "nice": false}, "axis": null}, "y": {"datum": -10, "type": "quantitative", "scale": {"domain": [-10, 120], "range": [132, 197], "nice": false, "zero": false}, "axis": null}}},
  {"data": {"name": "e"}, "mark": {"type": "text", "text": "Hearing Level (dB)", "fontSize": 3, "angle": 270, "baseline": "middle", "dy": -7.5, "color": "#333"}, "encoding": {"x": {"datum": 88.39, "type": "quantitative", "scale": {"type": "log", "base": 2, "domain": [88.39, 11313.7], "range": [50, 115], "nice": false}, "axis": null}, "y": {"datum": 55, "type": "quantitative", "scale": {"domain": [-10, 120], "range": [132, 197], "nice": false, "zero": false}, "axis": null}}},
  {"data": {"name": "e"}, "mark": {"type": "text", "text": "II-2", "font": "Liberation Serif", "fontSize": 7, "align": "left", "baseline": "bottom", "dx": -3.3, "dy": -4.6, "color": "#222"}, "encoding": {"x": {"datum": 88.39, "type": "quantitative", "scale": {"type": "log", "base": 2, "domain": [88.39, 11313.7], "range": [50, 115], "nice": false}, "axis": null}, "y": {"datum": -10, "type": "quantitative", "scale": {"domain": [-10, 120], "range": [132, 197], "nice": false, "zero": false}, "axis": null}}}
 ]},

 {"layer": [
  {"data": {"name": "freqs"}, "mark": {"type": "rule", "stroke": "#777", "strokeWidth": 0.4}, "encoding": {"x": {"field": "hz", "type": "quantitative", "scale": {"type": "log", "base": 2, "domain": [88.39, 11313.7], "range": [197, 265], "nice": false}, "axis": null}, "y": {"datum": -10, "type": "quantitative", "scale": {"domain": [-10, 120], "range": [132, 197], "nice": false, "zero": false}, "axis": null}, "y2": {"datum": 120}}},
  {"data": {"name": "levels"}, "mark": {"type": "rule", "stroke": "#777", "strokeWidth": 0.4}, "encoding": {"y": {"field": "db", "type": "quantitative", "scale": {"domain": [-10, 120], "range": [132, 197], "nice": false, "zero": false}, "axis": null}, "x": {"datum": 88.39, "type": "quantitative", "scale": {"type": "log", "base": 2, "domain": [88.39, 11313.7], "range": [197, 265], "nice": false}, "axis": null}, "x2": {"datum": 11313.7}}},
  {"data": {"name": "e"}, "mark": {"type": "rule", "stroke": "#333", "strokeWidth": 0.9}, "encoding": {"y": {"datum": 10, "type": "quantitative", "scale": {"domain": [-10, 120], "range": [132, 197], "nice": false, "zero": false}, "axis": null}, "x": {"datum": 88.39, "type": "quantitative", "scale": {"type": "log", "base": 2, "domain": [88.39, 11313.7], "range": [197, 265], "nice": false}, "axis": null}, "x2": {"datum": 11313.7}}},
  {"data": {"name": "e"}, "mark": {"type": "rect", "filled": false, "stroke": "#333", "strokeWidth": 0.7}, "encoding": {"x": {"datum": 88.39, "type": "quantitative", "scale": {"type": "log", "base": 2, "domain": [88.39, 11313.7], "range": [197, 265], "nice": false}, "axis": null}, "x2": {"datum": 11313.7}, "y": {"datum": -10, "type": "quantitative", "scale": {"domain": [-10, 120], "range": [132, 197], "nice": false, "zero": false}, "axis": null}, "y2": {"datum": 120}}},
  {"data": {"name": "a2"}, "mark": {"type": "line", "strokeWidth": 0.7}, "encoding": {"x": {"field": "hz", "type": "quantitative", "scale": {"type": "log", "base": 2, "domain": [88.39, 11313.7], "range": [197, 265], "nice": false}, "axis": null}, "y": {"field": "db", "type": "quantitative", "scale": {"domain": [-10, 120], "range": [132, 197], "nice": false, "zero": false}, "axis": null}, "color": {"field": "ear", "type": "nominal", "scale": {"domain": ["A", "B"], "range": ["#6f6f6f", "#a5a5a5"]}, "legend": null}}},
  {"data": {"name": "freqs"}, "mark": {"type": "text", "fontSize": 2.7, "baseline": "bottom", "dy": -1.2, "color": "#333"}, "encoding": {"x": {"field": "hz", "type": "quantitative", "scale": {"type": "log", "base": 2, "domain": [88.39, 11313.7], "range": [197, 265], "nice": false}, "axis": null}, "y": {"datum": -10, "type": "quantitative", "scale": {"domain": [-10, 120], "range": [132, 197], "nice": false, "zero": false}, "axis": null}, "text": {"field": "hz", "type": "quantitative", "format": ","}}},
  {"data": {"name": "ylabels"}, "mark": {"type": "text", "fontSize": 2.7, "align": "right", "baseline": "middle", "dx": -1.2, "color": "#333"}, "encoding": {"y": {"field": "db", "type": "quantitative", "scale": {"domain": [-10, 120], "range": [132, 197], "nice": false, "zero": false}, "axis": null}, "x": {"datum": 88.39, "type": "quantitative", "scale": {"type": "log", "base": 2, "domain": [88.39, 11313.7], "range": [197, 265], "nice": false}, "axis": null}, "text": {"field": "db", "type": "quantitative"}}},
  {"data": {"name": "e"}, "mark": {"type": "text", "text": "Frequency (Hz)", "fontSize": 3, "baseline": "bottom", "dy": -4.8, "color": "#333"}, "encoding": {"x": {"datum": 1000, "type": "quantitative", "scale": {"type": "log", "base": 2, "domain": [88.39, 11313.7], "range": [197, 265], "nice": false}, "axis": null}, "y": {"datum": -10, "type": "quantitative", "scale": {"domain": [-10, 120], "range": [132, 197], "nice": false, "zero": false}, "axis": null}}},
  {"data": {"name": "e"}, "mark": {"type": "text", "text": "Hearing Level (dB)", "fontSize": 3, "angle": 270, "baseline": "middle", "dy": -7.5, "color": "#333"}, "encoding": {"x": {"datum": 88.39, "type": "quantitative", "scale": {"type": "log", "base": 2, "domain": [88.39, 11313.7], "range": [197, 265], "nice": false}, "axis": null}, "y": {"datum": 55, "type": "quantitative", "scale": {"domain": [-10, 120], "range": [132, 197], "nice": false, "zero": false}, "axis": null}}},
  {"data": {"name": "e"}, "mark": {"type": "text", "text": "III-1", "font": "Liberation Serif", "fontSize": 7, "align": "left", "baseline": "bottom", "dx": 0, "dy": -4.6, "color": "#222"}, "encoding": {"x": {"datum": 88.39, "type": "quantitative", "scale": {"type": "log", "base": 2, "domain": [88.39, 11313.7], "range": [197, 265], "nice": false}, "axis": null}, "y": {"datum": -10, "type": "quantitative", "scale": {"domain": [-10, 120], "range": [132, 197], "nice": false, "zero": false}, "axis": null}}}
 ]},

 {"layer": [
  {"data": {"name": "freqs"}, "mark": {"type": "rule", "stroke": "#777", "strokeWidth": 0.4}, "encoding": {"x": {"field": "hz", "type": "quantitative", "scale": {"type": "log", "base": 2, "domain": [88.39, 11313.7], "range": [323, 387], "nice": false}, "axis": null}, "y": {"datum": -10, "type": "quantitative", "scale": {"domain": [-10, 120], "range": [132, 197], "nice": false, "zero": false}, "axis": null}, "y2": {"datum": 120}}},
  {"data": {"name": "levels"}, "mark": {"type": "rule", "stroke": "#777", "strokeWidth": 0.4}, "encoding": {"y": {"field": "db", "type": "quantitative", "scale": {"domain": [-10, 120], "range": [132, 197], "nice": false, "zero": false}, "axis": null}, "x": {"datum": 88.39, "type": "quantitative", "scale": {"type": "log", "base": 2, "domain": [88.39, 11313.7], "range": [323, 387], "nice": false}, "axis": null}, "x2": {"datum": 11313.7}}},
  {"data": {"name": "e"}, "mark": {"type": "rule", "stroke": "#333", "strokeWidth": 0.9}, "encoding": {"y": {"datum": 10, "type": "quantitative", "scale": {"domain": [-10, 120], "range": [132, 197], "nice": false, "zero": false}, "axis": null}, "x": {"datum": 88.39, "type": "quantitative", "scale": {"type": "log", "base": 2, "domain": [88.39, 11313.7], "range": [323, 387], "nice": false}, "axis": null}, "x2": {"datum": 11313.7}}},
  {"data": {"name": "e"}, "mark": {"type": "rect", "filled": false, "stroke": "#333", "strokeWidth": 0.7}, "encoding": {"x": {"datum": 88.39, "type": "quantitative", "scale": {"type": "log", "base": 2, "domain": [88.39, 11313.7], "range": [323, 387], "nice": false}, "axis": null}, "x2": {"datum": 11313.7}, "y": {"datum": -10, "type": "quantitative", "scale": {"domain": [-10, 120], "range": [132, 197], "nice": false, "zero": false}, "axis": null}, "y2": {"datum": 120}}},
  {"data": {"name": "a3"}, "mark": {"type": "line", "strokeWidth": 0.7}, "encoding": {"x": {"field": "hz", "type": "quantitative", "scale": {"type": "log", "base": 2, "domain": [88.39, 11313.7], "range": [323, 387], "nice": false}, "axis": null}, "y": {"field": "db", "type": "quantitative", "scale": {"domain": [-10, 120], "range": [132, 197], "nice": false, "zero": false}, "axis": null}, "color": {"field": "ear", "type": "nominal", "scale": {"domain": ["A", "B"], "range": ["#6f6f6f", "#a5a5a5"]}, "legend": null}}},
  {"data": {"name": "freqs"}, "mark": {"type": "text", "fontSize": 2.7, "baseline": "bottom", "dy": -1.2, "color": "#333"}, "encoding": {"x": {"field": "hz", "type": "quantitative", "scale": {"type": "log", "base": 2, "domain": [88.39, 11313.7], "range": [323, 387], "nice": false}, "axis": null}, "y": {"datum": -10, "type": "quantitative", "scale": {"domain": [-10, 120], "range": [132, 197], "nice": false, "zero": false}, "axis": null}, "text": {"field": "hz", "type": "quantitative", "format": ","}}},
  {"data": {"name": "ylabels"}, "mark": {"type": "text", "fontSize": 2.7, "align": "right", "baseline": "middle", "dx": -1.2, "color": "#333"}, "encoding": {"y": {"field": "db", "type": "quantitative", "scale": {"domain": [-10, 120], "range": [132, 197], "nice": false, "zero": false}, "axis": null}, "x": {"datum": 88.39, "type": "quantitative", "scale": {"type": "log", "base": 2, "domain": [88.39, 11313.7], "range": [323, 387], "nice": false}, "axis": null}, "text": {"field": "db", "type": "quantitative"}}},
  {"data": {"name": "e"}, "mark": {"type": "text", "text": "Frequency (Hz)", "fontSize": 3, "baseline": "bottom", "dy": -4.8, "color": "#333"}, "encoding": {"x": {"datum": 1000, "type": "quantitative", "scale": {"type": "log", "base": 2, "domain": [88.39, 11313.7], "range": [323, 387], "nice": false}, "axis": null}, "y": {"datum": -10, "type": "quantitative", "scale": {"domain": [-10, 120], "range": [132, 197], "nice": false, "zero": false}, "axis": null}}},
  {"data": {"name": "e"}, "mark": {"type": "text", "text": "Hearing Level (dB)", "fontSize": 3, "angle": 270, "baseline": "middle", "dy": -7.5, "color": "#333"}, "encoding": {"x": {"datum": 88.39, "type": "quantitative", "scale": {"type": "log", "base": 2, "domain": [88.39, 11313.7], "range": [323, 387], "nice": false}, "axis": null}, "y": {"datum": 55, "type": "quantitative", "scale": {"domain": [-10, 120], "range": [132, 197], "nice": false, "zero": false}, "axis": null}}},
  {"data": {"name": "e"}, "mark": {"type": "text", "text": "III-5", "font": "Liberation Serif", "fontSize": 7, "align": "left", "baseline": "bottom", "dx": -5, "dy": -4.6, "color": "#222"}, "encoding": {"x": {"datum": 88.39, "type": "quantitative", "scale": {"type": "log", "base": 2, "domain": [88.39, 11313.7], "range": [323, 387], "nice": false}, "axis": null}, "y": {"datum": -10, "type": "quantitative", "scale": {"domain": [-10, 120], "range": [132, 197], "nice": false, "zero": false}, "axis": null}}}
 ]},

 {"layer": [
  {"data": {"name": "freqs"}, "mark": {"type": "rule", "stroke": "#777", "strokeWidth": 0.4}, "encoding": {"x": {"field": "hz", "type": "quantitative", "scale": {"type": "log", "base": 2, "domain": [88.39, 11313.7], "range": [455, 518], "nice": false}, "axis": null}, "y": {"datum": -10, "type": "quantitative", "scale": {"domain": [-10, 120], "range": [132, 197], "nice": false, "zero": false}, "axis": null}, "y2": {"datum": 120}}},
  {"data": {"name": "levels"}, "mark": {"type": "rule", "stroke": "#777", "strokeWidth": 0.4}, "encoding": {"y": {"field": "db", "type": "quantitative", "scale": {"domain": [-10, 120], "range": [132, 197], "nice": false, "zero": false}, "axis": null}, "x": {"datum": 88.39, "type": "quantitative", "scale": {"type": "log", "base": 2, "domain": [88.39, 11313.7], "range": [455, 518], "nice": false}, "axis": null}, "x2": {"datum": 11313.7}}},
  {"data": {"name": "e"}, "mark": {"type": "rule", "stroke": "#333", "strokeWidth": 0.9}, "encoding": {"y": {"datum": 10, "type": "quantitative", "scale": {"domain": [-10, 120], "range": [132, 197], "nice": false, "zero": false}, "axis": null}, "x": {"datum": 88.39, "type": "quantitative", "scale": {"type": "log", "base": 2, "domain": [88.39, 11313.7], "range": [455, 518], "nice": false}, "axis": null}, "x2": {"datum": 11313.7}}},
  {"data": {"name": "e"}, "mark": {"type": "rect", "filled": false, "stroke": "#333", "strokeWidth": 0.7}, "encoding": {"x": {"datum": 88.39, "type": "quantitative", "scale": {"type": "log", "base": 2, "domain": [88.39, 11313.7], "range": [455, 518], "nice": false}, "axis": null}, "x2": {"datum": 11313.7}, "y": {"datum": -10, "type": "quantitative", "scale": {"domain": [-10, 120], "range": [132, 197], "nice": false, "zero": false}, "axis": null}, "y2": {"datum": 120}}},
  {"data": {"name": "a4"}, "mark": {"type": "line", "strokeWidth": 0.7}, "encoding": {"x": {"field": "hz", "type": "quantitative", "scale": {"type": "log", "base": 2, "domain": [88.39, 11313.7], "range": [455, 518], "nice": false}, "axis": null}, "y": {"field": "db", "type": "quantitative", "scale": {"domain": [-10, 120], "range": [132, 197], "nice": false, "zero": false}, "axis": null}, "color": {"field": "ear", "type": "nominal", "scale": {"domain": ["A", "B"], "range": ["#6f6f6f", "#a5a5a5"]}, "legend": null}}},
  {"data": {"name": "freqs"}, "mark": {"type": "text", "fontSize": 2.7, "baseline": "bottom", "dy": -1.2, "color": "#333"}, "encoding": {"x": {"field": "hz", "type": "quantitative", "scale": {"type": "log", "base": 2, "domain": [88.39, 11313.7], "range": [455, 518], "nice": false}, "axis": null}, "y": {"datum": -10, "type": "quantitative", "scale": {"domain": [-10, 120], "range": [132, 197], "nice": false, "zero": false}, "axis": null}, "text": {"field": "hz", "type": "quantitative", "format": ","}}},
  {"data": {"name": "ylabels"}, "mark": {"type": "text", "fontSize": 2.7, "align": "right", "baseline": "middle", "dx": -1.2, "color": "#333"}, "encoding": {"y": {"field": "db", "type": "quantitative", "scale": {"domain": [-10, 120], "range": [132, 197], "nice": false, "zero": false}, "axis": null}, "x": {"datum": 88.39, "type": "quantitative", "scale": {"type": "log", "base": 2, "domain": [88.39, 11313.7], "range": [455, 518], "nice": false}, "axis": null}, "text": {"field": "db", "type": "quantitative"}}},
  {"data": {"name": "e"}, "mark": {"type": "text", "text": "Frequency (Hz)", "fontSize": 3, "baseline": "bottom", "dy": -4.8, "color": "#333"}, "encoding": {"x": {"datum": 1000, "type": "quantitative", "scale": {"type": "log", "base": 2, "domain": [88.39, 11313.7], "range": [455, 518], "nice": false}, "axis": null}, "y": {"datum": -10, "type": "quantitative", "scale": {"domain": [-10, 120], "range": [132, 197], "nice": false, "zero": false}, "axis": null}}},
  {"data": {"name": "e"}, "mark": {"type": "text", "text": "Hearing Level (dB)", "fontSize": 3, "angle": 270, "baseline": "middle", "dy": -7.5, "color": "#333"}, "encoding": {"x": {"datum": 88.39, "type": "quantitative", "scale": {"type": "log", "base": 2, "domain": [88.39, 11313.7], "range": [455, 518], "nice": false}, "axis": null}, "y": {"datum": 55, "type": "quantitative", "scale": {"domain": [-10, 120], "range": [132, 197], "nice": false, "zero": false}, "axis": null}}},
  {"data": {"name": "e"}, "mark": {"type": "text", "text": "III-1", "font": "Liberation Serif", "fontSize": 7, "align": "left", "baseline": "bottom", "dx": -3.3, "dy": -4.6, "color": "#222"}, "encoding": {"x": {"datum": 88.39, "type": "quantitative", "scale": {"type": "log", "base": 2, "domain": [88.39, 11313.7], "range": [455, 518], "nice": false}, "axis": null}, "y": {"datum": -10, "type": "quantitative", "scale": {"domain": [-10, 120], "range": [132, 197], "nice": false, "zero": false}, "axis": null}}}
 ]},

 {"layer": [
  {"data": {"name": "freqs"}, "mark": {"type": "rule", "stroke": "#777", "strokeWidth": 0.4}, "encoding": {"x": {"field": "hz", "type": "quantitative", "scale": {"type": "log", "base": 2, "domain": [88.39, 11313.7], "range": [540, 598], "nice": false}, "axis": null}, "y": {"datum": -10, "type": "quantitative", "scale": {"domain": [-10, 120], "range": [68, 125], "nice": false, "zero": false}, "axis": null}, "y2": {"datum": 120}}},
  {"data": {"name": "levels"}, "mark": {"type": "rule", "stroke": "#777", "strokeWidth": 0.4}, "encoding": {"y": {"field": "db", "type": "quantitative", "scale": {"domain": [-10, 120], "range": [68, 125], "nice": false, "zero": false}, "axis": null}, "x": {"datum": 88.39, "type": "quantitative", "scale": {"type": "log", "base": 2, "domain": [88.39, 11313.7], "range": [540, 598], "nice": false}, "axis": null}, "x2": {"datum": 11313.7}}},
  {"data": {"name": "e"}, "mark": {"type": "rule", "stroke": "#333", "strokeWidth": 0.9}, "encoding": {"y": {"datum": 10, "type": "quantitative", "scale": {"domain": [-10, 120], "range": [68, 125], "nice": false, "zero": false}, "axis": null}, "x": {"datum": 88.39, "type": "quantitative", "scale": {"type": "log", "base": 2, "domain": [88.39, 11313.7], "range": [540, 598], "nice": false}, "axis": null}, "x2": {"datum": 11313.7}}},
  {"data": {"name": "e"}, "mark": {"type": "rect", "filled": false, "stroke": "#333", "strokeWidth": 0.7}, "encoding": {"x": {"datum": 88.39, "type": "quantitative", "scale": {"type": "log", "base": 2, "domain": [88.39, 11313.7], "range": [540, 598], "nice": false}, "axis": null}, "x2": {"datum": 11313.7}, "y": {"datum": -10, "type": "quantitative", "scale": {"domain": [-10, 120], "range": [68, 125], "nice": false, "zero": false}, "axis": null}, "y2": {"datum": 120}}},
  {"data": {"name": "a5"}, "mark": {"type": "line", "strokeWidth": 0.7}, "encoding": {"x": {"field": "hz", "type": "quantitative", "scale": {"type": "log", "base": 2, "domain": [88.39, 11313.7], "range": [540, 598], "nice": false}, "axis": null}, "y": {"field": "db", "type": "quantitative", "scale": {"domain": [-10, 120], "range": [68, 125], "nice": false, "zero": false}, "axis": null}, "color": {"field": "ear", "type": "nominal", "scale": {"domain": ["A", "B"], "range": ["#6f6f6f", "#a5a5a5"]}, "legend": null}}},
  {"data": {"name": "freqs"}, "mark": {"type": "text", "fontSize": 2.5, "baseline": "bottom", "dy": -1.2, "color": "#333"}, "encoding": {"x": {"field": "hz", "type": "quantitative", "scale": {"type": "log", "base": 2, "domain": [88.39, 11313.7], "range": [540, 598], "nice": false}, "axis": null}, "y": {"datum": -10, "type": "quantitative", "scale": {"domain": [-10, 120], "range": [68, 125], "nice": false, "zero": false}, "axis": null}, "text": {"field": "hz", "type": "quantitative", "format": ","}}},
  {"data": {"name": "ylabels"}, "mark": {"type": "text", "fontSize": 2.5, "align": "right", "baseline": "middle", "dx": -1.2, "color": "#333"}, "encoding": {"y": {"field": "db", "type": "quantitative", "scale": {"domain": [-10, 120], "range": [68, 125], "nice": false, "zero": false}, "axis": null}, "x": {"datum": 88.39, "type": "quantitative", "scale": {"type": "log", "base": 2, "domain": [88.39, 11313.7], "range": [540, 598], "nice": false}, "axis": null}, "text": {"field": "db", "type": "quantitative"}}},
  {"data": {"name": "e"}, "mark": {"type": "text", "text": "Frequency (Hz)", "fontSize": 3, "baseline": "bottom", "dy": -4.6, "color": "#333"}, "encoding": {"x": {"datum": 1000, "type": "quantitative", "scale": {"type": "log", "base": 2, "domain": [88.39, 11313.7], "range": [540, 598], "nice": false}, "axis": null}, "y": {"datum": -10, "type": "quantitative", "scale": {"domain": [-10, 120], "range": [68, 125], "nice": false, "zero": false}, "axis": null}}},
  {"data": {"name": "e"}, "mark": {"type": "text", "text": "Hearing Level (dB)", "fontSize": 3, "angle": 270, "baseline": "middle", "dy": -7.5, "color": "#333"}, "encoding": {"x": {"datum": 88.39, "type": "quantitative", "scale": {"type": "log", "base": 2, "domain": [88.39, 11313.7], "range": [540, 598], "nice": false}, "axis": null}, "y": {"datum": 55, "type": "quantitative", "scale": {"domain": [-10, 120], "range": [68, 125], "nice": false, "zero": false}, "axis": null}}},
  {"data": {"name": "e"}, "mark": {"type": "text", "text": "III-2", "font": "Liberation Serif", "fontSize": 7, "align": "left", "baseline": "bottom", "dx": -1.7, "dy": -5.6, "color": "#222"}, "encoding": {"x": {"datum": 88.39, "type": "quantitative", "scale": {"type": "log", "base": 2, "domain": [88.39, 11313.7], "range": [540, 598], "nice": false}, "axis": null}, "y": {"datum": -10, "type": "quantitative", "scale": {"domain": [-10, 120], "range": [68, 125], "nice": false, "zero": false}, "axis": null}}}
 ]},

 {"layer": [
  {"data": {"name": "freqs"}, "mark": {"type": "rule", "stroke": "#777", "strokeWidth": 0.4}, "encoding": {"x": {"field": "hz", "type": "quantitative", "scale": {"type": "log", "base": 2, "domain": [88.39, 11313.7], "range": [53, 117], "nice": false}, "axis": null}, "y": {"datum": -10, "type": "quantitative", "scale": {"domain": [-10, 120], "range": [357, 422], "nice": false, "zero": false}, "axis": null}, "y2": {"datum": 120}}},
  {"data": {"name": "levels"}, "mark": {"type": "rule", "stroke": "#777", "strokeWidth": 0.4}, "encoding": {"y": {"field": "db", "type": "quantitative", "scale": {"domain": [-10, 120], "range": [357, 422], "nice": false, "zero": false}, "axis": null}, "x": {"datum": 88.39, "type": "quantitative", "scale": {"type": "log", "base": 2, "domain": [88.39, 11313.7], "range": [53, 117], "nice": false}, "axis": null}, "x2": {"datum": 11313.7}}},
  {"data": {"name": "e"}, "mark": {"type": "rule", "stroke": "#333", "strokeWidth": 0.9}, "encoding": {"y": {"datum": 10, "type": "quantitative", "scale": {"domain": [-10, 120], "range": [357, 422], "nice": false, "zero": false}, "axis": null}, "x": {"datum": 88.39, "type": "quantitative", "scale": {"type": "log", "base": 2, "domain": [88.39, 11313.7], "range": [53, 117], "nice": false}, "axis": null}, "x2": {"datum": 11313.7}}},
  {"data": {"name": "e"}, "mark": {"type": "rect", "filled": false, "stroke": "#333", "strokeWidth": 0.7}, "encoding": {"x": {"datum": 88.39, "type": "quantitative", "scale": {"type": "log", "base": 2, "domain": [88.39, 11313.7], "range": [53, 117], "nice": false}, "axis": null}, "x2": {"datum": 11313.7}, "y": {"datum": -10, "type": "quantitative", "scale": {"domain": [-10, 120], "range": [357, 422], "nice": false, "zero": false}, "axis": null}, "y2": {"datum": 120}}},
  {"data": {"name": "a6"}, "mark": {"type": "line", "strokeWidth": 0.7}, "encoding": {"x": {"field": "hz", "type": "quantitative", "scale": {"type": "log", "base": 2, "domain": [88.39, 11313.7], "range": [53, 117], "nice": false}, "axis": null}, "y": {"field": "db", "type": "quantitative", "scale": {"domain": [-10, 120], "range": [357, 422], "nice": false, "zero": false}, "axis": null}, "color": {"field": "ear", "type": "nominal", "scale": {"domain": ["A", "B"], "range": ["#6f6f6f", "#a5a5a5"]}, "legend": null}}},
  {"data": {"name": "freqs"}, "mark": {"type": "text", "fontSize": 2.7, "baseline": "bottom", "dy": -1.2, "color": "#333"}, "encoding": {"x": {"field": "hz", "type": "quantitative", "scale": {"type": "log", "base": 2, "domain": [88.39, 11313.7], "range": [53, 117], "nice": false}, "axis": null}, "y": {"datum": -10, "type": "quantitative", "scale": {"domain": [-10, 120], "range": [357, 422], "nice": false, "zero": false}, "axis": null}, "text": {"field": "hz", "type": "quantitative", "format": ","}}},
  {"data": {"name": "ylabels"}, "mark": {"type": "text", "fontSize": 2.7, "align": "right", "baseline": "middle", "dx": -1.2, "color": "#333"}, "encoding": {"y": {"field": "db", "type": "quantitative", "scale": {"domain": [-10, 120], "range": [357, 422], "nice": false, "zero": false}, "axis": null}, "x": {"datum": 88.39, "type": "quantitative", "scale": {"type": "log", "base": 2, "domain": [88.39, 11313.7], "range": [53, 117], "nice": false}, "axis": null}, "text": {"field": "db", "type": "quantitative"}}},
  {"data": {"name": "e"}, "mark": {"type": "text", "text": "Frequency (Hz)", "fontSize": 3, "baseline": "bottom", "dy": -4.8, "color": "#333"}, "encoding": {"x": {"datum": 1000, "type": "quantitative", "scale": {"type": "log", "base": 2, "domain": [88.39, 11313.7], "range": [53, 117], "nice": false}, "axis": null}, "y": {"datum": -10, "type": "quantitative", "scale": {"domain": [-10, 120], "range": [357, 422], "nice": false, "zero": false}, "axis": null}}},
  {"data": {"name": "e"}, "mark": {"type": "text", "text": "Hearing Level (dB)", "fontSize": 3, "angle": 270, "baseline": "middle", "dy": -7.5, "color": "#333"}, "encoding": {"x": {"datum": 88.39, "type": "quantitative", "scale": {"type": "log", "base": 2, "domain": [88.39, 11313.7], "range": [53, 117], "nice": false}, "axis": null}, "y": {"datum": 55, "type": "quantitative", "scale": {"domain": [-10, 120], "range": [357, 422], "nice": false, "zero": false}, "axis": null}}},
  {"data": {"name": "e"}, "mark": {"type": "text", "text": "IV-1", "font": "Liberation Serif", "fontSize": 7, "align": "left", "baseline": "bottom", "dx": -14, "dy": -3, "color": "#222"}, "encoding": {"x": {"datum": 88.39, "type": "quantitative", "scale": {"type": "log", "base": 2, "domain": [88.39, 11313.7], "range": [53, 117], "nice": false}, "axis": null}, "y": {"datum": -10, "type": "quantitative", "scale": {"domain": [-10, 120], "range": [357, 422], "nice": false, "zero": false}, "axis": null}}}
 ]},

 {"layer": [
  {"data": {"name": "freqs"}, "mark": {"type": "rule", "stroke": "#777", "strokeWidth": 0.4}, "encoding": {"x": {"field": "hz", "type": "quantitative", "scale": {"type": "log", "base": 2, "domain": [88.39, 11313.7], "range": [194, 260], "nice": false}, "axis": null}, "y": {"datum": -10, "type": "quantitative", "scale": {"domain": [-10, 120], "range": [357, 422], "nice": false, "zero": false}, "axis": null}, "y2": {"datum": 120}}},
  {"data": {"name": "levels"}, "mark": {"type": "rule", "stroke": "#777", "strokeWidth": 0.4}, "encoding": {"y": {"field": "db", "type": "quantitative", "scale": {"domain": [-10, 120], "range": [357, 422], "nice": false, "zero": false}, "axis": null}, "x": {"datum": 88.39, "type": "quantitative", "scale": {"type": "log", "base": 2, "domain": [88.39, 11313.7], "range": [194, 260], "nice": false}, "axis": null}, "x2": {"datum": 11313.7}}},
  {"data": {"name": "e"}, "mark": {"type": "rule", "stroke": "#333", "strokeWidth": 0.9}, "encoding": {"y": {"datum": 10, "type": "quantitative", "scale": {"domain": [-10, 120], "range": [357, 422], "nice": false, "zero": false}, "axis": null}, "x": {"datum": 88.39, "type": "quantitative", "scale": {"type": "log", "base": 2, "domain": [88.39, 11313.7], "range": [194, 260], "nice": false}, "axis": null}, "x2": {"datum": 11313.7}}},
  {"data": {"name": "e"}, "mark": {"type": "rect", "filled": false, "stroke": "#333", "strokeWidth": 0.7}, "encoding": {"x": {"datum": 88.39, "type": "quantitative", "scale": {"type": "log", "base": 2, "domain": [88.39, 11313.7], "range": [194, 260], "nice": false}, "axis": null}, "x2": {"datum": 11313.7}, "y": {"datum": -10, "type": "quantitative", "scale": {"domain": [-10, 120], "range": [357, 422], "nice": false, "zero": false}, "axis": null}, "y2": {"datum": 120}}},
  {"data": {"name": "a7"}, "mark": {"type": "line", "strokeWidth": 0.7}, "encoding": {"x": {"field": "hz", "type": "quantitative", "scale": {"type": "log", "base": 2, "domain": [88.39, 11313.7], "range": [194, 260], "nice": false}, "axis": null}, "y": {"field": "db", "type": "quantitative", "scale": {"domain": [-10, 120], "range": [357, 422], "nice": false, "zero": false}, "axis": null}, "color": {"field": "ear", "type": "nominal", "scale": {"domain": ["A", "B"], "range": ["#6f6f6f", "#a5a5a5"]}, "legend": null}}},
  {"data": {"name": "freqs"}, "mark": {"type": "text", "fontSize": 2.7, "baseline": "bottom", "dy": -1.2, "color": "#333"}, "encoding": {"x": {"field": "hz", "type": "quantitative", "scale": {"type": "log", "base": 2, "domain": [88.39, 11313.7], "range": [194, 260], "nice": false}, "axis": null}, "y": {"datum": -10, "type": "quantitative", "scale": {"domain": [-10, 120], "range": [357, 422], "nice": false, "zero": false}, "axis": null}, "text": {"field": "hz", "type": "quantitative", "format": ","}}},
  {"data": {"name": "ylabels"}, "mark": {"type": "text", "fontSize": 2.7, "align": "right", "baseline": "middle", "dx": -1.2, "color": "#333"}, "encoding": {"y": {"field": "db", "type": "quantitative", "scale": {"domain": [-10, 120], "range": [357, 422], "nice": false, "zero": false}, "axis": null}, "x": {"datum": 88.39, "type": "quantitative", "scale": {"type": "log", "base": 2, "domain": [88.39, 11313.7], "range": [194, 260], "nice": false}, "axis": null}, "text": {"field": "db", "type": "quantitative"}}},
  {"data": {"name": "e"}, "mark": {"type": "text", "text": "Frequency (Hz)", "fontSize": 3, "baseline": "bottom", "dy": -4.8, "color": "#333"}, "encoding": {"x": {"datum": 1000, "type": "quantitative", "scale": {"type": "log", "base": 2, "domain": [88.39, 11313.7], "range": [194, 260], "nice": false}, "axis": null}, "y": {"datum": -10, "type": "quantitative", "scale": {"domain": [-10, 120], "range": [357, 422], "nice": false, "zero": false}, "axis": null}}},
  {"data": {"name": "e"}, "mark": {"type": "text", "text": "Hearing Level (dB)", "fontSize": 3, "angle": 270, "baseline": "middle", "dy": -7.5, "color": "#333"}, "encoding": {"x": {"datum": 88.39, "type": "quantitative", "scale": {"type": "log", "base": 2, "domain": [88.39, 11313.7], "range": [194, 260], "nice": false}, "axis": null}, "y": {"datum": 55, "type": "quantitative", "scale": {"domain": [-10, 120], "range": [357, 422], "nice": false, "zero": false}, "axis": null}}},
  {"data": {"name": "e"}, "mark": {"type": "text", "text": "IV-2", "font": "Liberation Serif", "fontSize": 7, "align": "left", "baseline": "bottom", "dx": -1.6, "dy": -4.6, "color": "#222"}, "encoding": {"x": {"datum": 88.39, "type": "quantitative", "scale": {"type": "log", "base": 2, "domain": [88.39, 11313.7], "range": [194, 260], "nice": false}, "axis": null}, "y": {"datum": -10, "type": "quantitative", "scale": {"domain": [-10, 120], "range": [357, 422], "nice": false, "zero": false}, "axis": null}}}
 ]},

 {"layer": [
  {"data": {"name": "freqs"}, "mark": {"type": "rule", "stroke": "#777", "strokeWidth": 0.4}, "encoding": {"x": {"field": "hz", "type": "quantitative", "scale": {"type": "log", "base": 2, "domain": [88.39, 11313.7], "range": [298, 358], "nice": false}, "axis": null}, "y": {"datum": -10, "type": "quantitative", "scale": {"domain": [-10, 120], "range": [223, 281], "nice": false, "zero": false}, "axis": null}, "y2": {"datum": 120}}},
  {"data": {"name": "levels"}, "mark": {"type": "rule", "stroke": "#777", "strokeWidth": 0.4}, "encoding": {"y": {"field": "db", "type": "quantitative", "scale": {"domain": [-10, 120], "range": [223, 281], "nice": false, "zero": false}, "axis": null}, "x": {"datum": 88.39, "type": "quantitative", "scale": {"type": "log", "base": 2, "domain": [88.39, 11313.7], "range": [298, 358], "nice": false}, "axis": null}, "x2": {"datum": 11313.7}}},
  {"data": {"name": "e"}, "mark": {"type": "rule", "stroke": "#333", "strokeWidth": 0.9}, "encoding": {"y": {"datum": 10, "type": "quantitative", "scale": {"domain": [-10, 120], "range": [223, 281], "nice": false, "zero": false}, "axis": null}, "x": {"datum": 88.39, "type": "quantitative", "scale": {"type": "log", "base": 2, "domain": [88.39, 11313.7], "range": [298, 358], "nice": false}, "axis": null}, "x2": {"datum": 11313.7}}},
  {"data": {"name": "e"}, "mark": {"type": "rect", "filled": false, "stroke": "#333", "strokeWidth": 0.7}, "encoding": {"x": {"datum": 88.39, "type": "quantitative", "scale": {"type": "log", "base": 2, "domain": [88.39, 11313.7], "range": [298, 358], "nice": false}, "axis": null}, "x2": {"datum": 11313.7}, "y": {"datum": -10, "type": "quantitative", "scale": {"domain": [-10, 120], "range": [223, 281], "nice": false, "zero": false}, "axis": null}, "y2": {"datum": 120}}},
  {"data": {"name": "a8"}, "mark": {"type": "line", "strokeWidth": 0.7}, "encoding": {"x": {"field": "hz", "type": "quantitative", "scale": {"type": "log", "base": 2, "domain": [88.39, 11313.7], "range": [298, 358], "nice": false}, "axis": null}, "y": {"field": "db", "type": "quantitative", "scale": {"domain": [-10, 120], "range": [223, 281], "nice": false, "zero": false}, "axis": null}, "color": {"field": "ear", "type": "nominal", "scale": {"domain": ["A", "B"], "range": ["#6f6f6f", "#a5a5a5"]}, "legend": null}}},
  {"data": {"name": "freqs"}, "mark": {"type": "text", "fontSize": 2.5, "baseline": "bottom", "dy": -1.2, "color": "#333"}, "encoding": {"x": {"field": "hz", "type": "quantitative", "scale": {"type": "log", "base": 2, "domain": [88.39, 11313.7], "range": [298, 358], "nice": false}, "axis": null}, "y": {"datum": -10, "type": "quantitative", "scale": {"domain": [-10, 120], "range": [223, 281], "nice": false, "zero": false}, "axis": null}, "text": {"field": "hz", "type": "quantitative", "format": ","}}},
  {"data": {"name": "ylabels"}, "mark": {"type": "text", "fontSize": 2.5, "align": "right", "baseline": "middle", "dx": -1.2, "color": "#333"}, "encoding": {"y": {"field": "db", "type": "quantitative", "scale": {"domain": [-10, 120], "range": [223, 281], "nice": false, "zero": false}, "axis": null}, "x": {"datum": 88.39, "type": "quantitative", "scale": {"type": "log", "base": 2, "domain": [88.39, 11313.7], "range": [298, 358], "nice": false}, "axis": null}, "text": {"field": "db", "type": "quantitative"}}},
  {"data": {"name": "e"}, "mark": {"type": "text", "text": "Frequency (Hz)", "fontSize": 3, "baseline": "bottom", "dy": -4.6, "color": "#333"}, "encoding": {"x": {"datum": 1000, "type": "quantitative", "scale": {"type": "log", "base": 2, "domain": [88.39, 11313.7], "range": [298, 358], "nice": false}, "axis": null}, "y": {"datum": -10, "type": "quantitative", "scale": {"domain": [-10, 120], "range": [223, 281], "nice": false, "zero": false}, "axis": null}}},
  {"data": {"name": "e"}, "mark": {"type": "text", "text": "Hearing Level (dB)", "fontSize": 3, "angle": 270, "baseline": "middle", "dy": -7.5, "color": "#333"}, "encoding": {"x": {"datum": 88.39, "type": "quantitative", "scale": {"type": "log", "base": 2, "domain": [88.39, 11313.7], "range": [298, 358], "nice": false}, "axis": null}, "y": {"datum": 55, "type": "quantitative", "scale": {"domain": [-10, 120], "range": [223, 281], "nice": false, "zero": false}, "axis": null}}},
  {"data": {"name": "e"}, "mark": {"type": "text", "text": "II-4", "font": "Liberation Serif", "fontSize": 7, "align": "left", "baseline": "bottom", "dx": -1.6, "dy": -4.6, "color": "#222"}, "encoding": {"x": {"datum": 88.39, "type": "quantitative", "scale": {"type": "log", "base": 2, "domain": [88.39, 11313.7], "range": [298, 358], "nice": false}, "axis": null}, "y": {"datum": -10, "type": "quantitative", "scale": {"domain": [-10, 120], "range": [223, 281], "nice": false, "zero": false}, "axis": null}}}
 ]},

 {"layer": [
  {"data": {"name": "freqs"}, "mark": {"type": "rule", "stroke": "#777", "strokeWidth": 0.4}, "encoding": {"x": {"field": "hz", "type": "quantitative", "scale": {"type": "log", "base": 2, "domain": [88.39, 11313.7], "range": [298, 358], "nice": false}, "axis": null}, "y": {"datum": -10, "type": "quantitative", "scale": {"domain": [-10, 120], "range": [294, 345], "nice": false, "zero": false}, "axis": null}, "y2": {"datum": 120}}},
  {"data": {"name": "levels"}, "mark": {"type": "rule", "stroke": "#777", "strokeWidth": 0.4}, "encoding": {"y": {"field": "db", "type": "quantitative", "scale": {"domain": [-10, 120], "range": [294, 345], "nice": false, "zero": false}, "axis": null}, "x": {"datum": 88.39, "type": "quantitative", "scale": {"type": "log", "base": 2, "domain": [88.39, 11313.7], "range": [298, 358], "nice": false}, "axis": null}, "x2": {"datum": 11313.7}}},
  {"data": {"name": "e"}, "mark": {"type": "rule", "stroke": "#333", "strokeWidth": 0.9}, "encoding": {"y": {"datum": 10, "type": "quantitative", "scale": {"domain": [-10, 120], "range": [294, 345], "nice": false, "zero": false}, "axis": null}, "x": {"datum": 88.39, "type": "quantitative", "scale": {"type": "log", "base": 2, "domain": [88.39, 11313.7], "range": [298, 358], "nice": false}, "axis": null}, "x2": {"datum": 11313.7}}},
  {"data": {"name": "e"}, "mark": {"type": "rect", "filled": false, "stroke": "#333", "strokeWidth": 0.7}, "encoding": {"x": {"datum": 88.39, "type": "quantitative", "scale": {"type": "log", "base": 2, "domain": [88.39, 11313.7], "range": [298, 358], "nice": false}, "axis": null}, "x2": {"datum": 11313.7}, "y": {"datum": -10, "type": "quantitative", "scale": {"domain": [-10, 120], "range": [294, 345], "nice": false, "zero": false}, "axis": null}, "y2": {"datum": 120}}},
  {"data": {"name": "a9"}, "mark": {"type": "line", "strokeWidth": 0.7}, "encoding": {"x": {"field": "hz", "type": "quantitative", "scale": {"type": "log", "base": 2, "domain": [88.39, 11313.7], "range": [298, 358], "nice": false}, "axis": null}, "y": {"field": "db", "type": "quantitative", "scale": {"domain": [-10, 120], "range": [294, 345], "nice": false, "zero": false}, "axis": null}, "color": {"field": "ear", "type": "nominal", "scale": {"domain": ["A", "B"], "range": ["#6f6f6f", "#a5a5a5"]}, "legend": null}}},
  {"data": {"name": "freqs"}, "mark": {"type": "text", "fontSize": 2.5, "baseline": "bottom", "dy": -1.2, "color": "#333"}, "encoding": {"x": {"field": "hz", "type": "quantitative", "scale": {"type": "log", "base": 2, "domain": [88.39, 11313.7], "range": [298, 358], "nice": false}, "axis": null}, "y": {"datum": -10, "type": "quantitative", "scale": {"domain": [-10, 120], "range": [294, 345], "nice": false, "zero": false}, "axis": null}, "text": {"field": "hz", "type": "quantitative", "format": ","}}},
  {"data": {"name": "ylabels"}, "mark": {"type": "text", "fontSize": 2.3, "align": "right", "baseline": "middle", "dx": -1.2, "color": "#333"}, "encoding": {"y": {"field": "db", "type": "quantitative", "scale": {"domain": [-10, 120], "range": [294, 345], "nice": false, "zero": false}, "axis": null}, "x": {"datum": 88.39, "type": "quantitative", "scale": {"type": "log", "base": 2, "domain": [88.39, 11313.7], "range": [298, 358], "nice": false}, "axis": null}, "text": {"field": "db", "type": "quantitative"}}},
  {"data": {"name": "e"}, "mark": {"type": "text", "text": "Frequency (Hz)", "fontSize": 3, "baseline": "bottom", "dy": -4.6, "color": "#333"}, "encoding": {"x": {"datum": 1000, "type": "quantitative", "scale": {"type": "log", "base": 2, "domain": [88.39, 11313.7], "range": [298, 358], "nice": false}, "axis": null}, "y": {"datum": -10, "type": "quantitative", "scale": {"domain": [-10, 120], "range": [294, 345], "nice": false, "zero": false}, "axis": null}}},
  {"data": {"name": "e"}, "mark": {"type": "text", "text": "Hearing Level (dB)", "fontSize": 3, "angle": 270, "baseline": "middle", "dy": -7.5, "color": "#333"}, "encoding": {"x": {"datum": 88.39, "type": "quantitative", "scale": {"type": "log", "base": 2, "domain": [88.39, 11313.7], "range": [298, 358], "nice": false}, "axis": null}, "y": {"datum": 55, "type": "quantitative", "scale": {"domain": [-10, 120], "range": [294, 345], "nice": false, "zero": false}, "axis": null}}},
  {"data": {"name": "e"}, "mark": {"type": "text", "text": "IV-3", "font": "Liberation Serif", "fontSize": 7, "align": "left", "baseline": "bottom", "dx": -1.6, "dy": -4.6, "color": "#222"}, "encoding": {"x": {"datum": 88.39, "type": "quantitative", "scale": {"type": "log", "base": 2, "domain": [88.39, 11313.7], "range": [298, 358], "nice": false}, "axis": null}, "y": {"datum": -10, "type": "quantitative", "scale": {"domain": [-10, 120], "range": [294, 345], "nice": false, "zero": false}, "axis": null}}}
 ]},

 {"layer": [
  {"data": {"name": "freqs"}, "mark": {"type": "rule", "stroke": "#777", "strokeWidth": 0.4}, "encoding": {"x": {"field": "hz", "type": "quantitative", "scale": {"type": "log", "base": 2, "domain": [88.39, 11313.7], "range": [298, 358], "nice": false}, "axis": null}, "y": {"datum": -10, "type": "quantitative", "scale": {"domain": [-10, 120], "range": [365, 423], "nice": false, "zero": false}, "axis": null}, "y2": {"datum": 120}}},
  {"data": {"name": "levels"}, "mark": {"type": "rule", "stroke": "#777", "strokeWidth": 0.4}, "encoding": {"y": {"field": "db", "type": "quantitative", "scale": {"domain": [-10, 120], "range": [365, 423], "nice": false, "zero": false}, "axis": null}, "x": {"datum": 88.39, "type": "quantitative", "scale": {"type": "log", "base": 2, "domain": [88.39, 11313.7], "range": [298, 358], "nice": false}, "axis": null}, "x2": {"datum": 11313.7}}},
  {"data": {"name": "e"}, "mark": {"type": "rule", "stroke": "#333", "strokeWidth": 0.9}, "encoding": {"y": {"datum": 10, "type": "quantitative", "scale": {"domain": [-10, 120], "range": [365, 423], "nice": false, "zero": false}, "axis": null}, "x": {"datum": 88.39, "type": "quantitative", "scale": {"type": "log", "base": 2, "domain": [88.39, 11313.7], "range": [298, 358], "nice": false}, "axis": null}, "x2": {"datum": 11313.7}}},
  {"data": {"name": "e"}, "mark": {"type": "rect", "filled": false, "stroke": "#333", "strokeWidth": 0.7}, "encoding": {"x": {"datum": 88.39, "type": "quantitative", "scale": {"type": "log", "base": 2, "domain": [88.39, 11313.7], "range": [298, 358], "nice": false}, "axis": null}, "x2": {"datum": 11313.7}, "y": {"datum": -10, "type": "quantitative", "scale": {"domain": [-10, 120], "range": [365, 423], "nice": false, "zero": false}, "axis": null}, "y2": {"datum": 120}}},
  {"data": {"name": "a10"}, "mark": {"type": "line", "strokeWidth": 0.7}, "encoding": {"x": {"field": "hz", "type": "quantitative", "scale": {"type": "log", "base": 2, "domain": [88.39, 11313.7], "range": [298, 358], "nice": false}, "axis": null}, "y": {"field": "db", "type": "quantitative", "scale": {"domain": [-10, 120], "range": [365, 423], "nice": false, "zero": false}, "axis": null}, "color": {"field": "ear", "type": "nominal", "scale": {"domain": ["A", "B"], "range": ["#6f6f6f", "#a5a5a5"]}, "legend": null}}},
  {"data": {"name": "freqs"}, "mark": {"type": "text", "fontSize": 2.5, "baseline": "bottom", "dy": -1.2, "color": "#333"}, "encoding": {"x": {"field": "hz", "type": "quantitative", "scale": {"type": "log", "base": 2, "domain": [88.39, 11313.7], "range": [298, 358], "nice": false}, "axis": null}, "y": {"datum": -10, "type": "quantitative", "scale": {"domain": [-10, 120], "range": [365, 423], "nice": false, "zero": false}, "axis": null}, "text": {"field": "hz", "type": "quantitative", "format": ","}}},
  {"data": {"name": "ylabels"}, "mark": {"type": "text", "fontSize": 2.5, "align": "right", "baseline": "middle", "dx": -1.2, "color": "#333"}, "encoding": {"y": {"field": "db", "type": "quantitative", "scale": {"domain": [-10, 120], "range": [365, 423], "nice": false, "zero": false}, "axis": null}, "x": {"datum": 88.39, "type": "quantitative", "scale": {"type": "log", "base": 2, "domain": [88.39, 11313.7], "range": [298, 358], "nice": false}, "axis": null}, "text": {"field": "db", "type": "quantitative"}}},
  {"data": {"name": "e"}, "mark": {"type": "text", "text": "Frequency (Hz)", "fontSize": 3, "baseline": "bottom", "dy": -4.6, "color": "#333"}, "encoding": {"x": {"datum": 1000, "type": "quantitative", "scale": {"type": "log", "base": 2, "domain": [88.39, 11313.7], "range": [298, 358], "nice": false}, "axis": null}, "y": {"datum": -10, "type": "quantitative", "scale": {"domain": [-10, 120], "range": [365, 423], "nice": false, "zero": false}, "axis": null}}},
  {"data": {"name": "e"}, "mark": {"type": "text", "text": "Hearing Level (dB)", "fontSize": 3, "angle": 270, "baseline": "middle", "dy": -7.5, "color": "#333"}, "encoding": {"x": {"datum": 88.39, "type": "quantitative", "scale": {"type": "log", "base": 2, "domain": [88.39, 11313.7], "range": [298, 358], "nice": false}, "axis": null}, "y": {"datum": 55, "type": "quantitative", "scale": {"domain": [-10, 120], "range": [365, 423], "nice": false, "zero": false}, "axis": null}}},
  {"data": {"name": "e"}, "mark": {"type": "text", "text": "IV-4", "font": "Liberation Serif", "fontSize": 7, "align": "left", "baseline": "bottom", "dx": -1.6, "dy": -4.6, "color": "#222"}, "encoding": {"x": {"datum": 88.39, "type": "quantitative", "scale": {"type": "log", "base": 2, "domain": [88.39, 11313.7], "range": [298, 358], "nice": false}, "axis": null}, "y": {"datum": -10, "type": "quantitative", "scale": {"domain": [-10, 120], "range": [365, 423], "nice": false, "zero": false}, "axis": null}}}
 ]},

 {"layer": [
  {"data": {"name": "freqs"}, "mark": {"type": "rule", "stroke": "#777", "strokeWidth": 0.4}, "encoding": {"x": {"field": "hz", "type": "quantitative", "scale": {"type": "log", "base": 2, "domain": [88.39, 11313.7], "range": [423, 487], "nice": false}, "axis": null}, "y": {"datum": -10, "type": "quantitative", "scale": {"domain": [-10, 120], "range": [358, 422], "nice": false, "zero": false}, "axis": null}, "y2": {"datum": 120}}},
  {"data": {"name": "levels"}, "mark": {"type": "rule", "stroke": "#777", "strokeWidth": 0.4}, "encoding": {"y": {"field": "db", "type": "quantitative", "scale": {"domain": [-10, 120], "range": [358, 422], "nice": false, "zero": false}, "axis": null}, "x": {"datum": 88.39, "type": "quantitative", "scale": {"type": "log", "base": 2, "domain": [88.39, 11313.7], "range": [423, 487], "nice": false}, "axis": null}, "x2": {"datum": 11313.7}}},
  {"data": {"name": "e"}, "mark": {"type": "rule", "stroke": "#333", "strokeWidth": 0.9}, "encoding": {"y": {"datum": 10, "type": "quantitative", "scale": {"domain": [-10, 120], "range": [358, 422], "nice": false, "zero": false}, "axis": null}, "x": {"datum": 88.39, "type": "quantitative", "scale": {"type": "log", "base": 2, "domain": [88.39, 11313.7], "range": [423, 487], "nice": false}, "axis": null}, "x2": {"datum": 11313.7}}},
  {"data": {"name": "e"}, "mark": {"type": "rect", "filled": false, "stroke": "#333", "strokeWidth": 0.7}, "encoding": {"x": {"datum": 88.39, "type": "quantitative", "scale": {"type": "log", "base": 2, "domain": [88.39, 11313.7], "range": [423, 487], "nice": false}, "axis": null}, "x2": {"datum": 11313.7}, "y": {"datum": -10, "type": "quantitative", "scale": {"domain": [-10, 120], "range": [358, 422], "nice": false, "zero": false}, "axis": null}, "y2": {"datum": 120}}},
  {"data": {"name": "a11"}, "mark": {"type": "line", "strokeWidth": 0.7}, "encoding": {"x": {"field": "hz", "type": "quantitative", "scale": {"type": "log", "base": 2, "domain": [88.39, 11313.7], "range": [423, 487], "nice": false}, "axis": null}, "y": {"field": "db", "type": "quantitative", "scale": {"domain": [-10, 120], "range": [358, 422], "nice": false, "zero": false}, "axis": null}, "color": {"field": "ear", "type": "nominal", "scale": {"domain": ["A", "B"], "range": ["#6f6f6f", "#a5a5a5"]}, "legend": null}}},
  {"data": {"name": "freqs"}, "mark": {"type": "text", "fontSize": 2.7, "baseline": "bottom", "dy": -1.2, "color": "#333"}, "encoding": {"x": {"field": "hz", "type": "quantitative", "scale": {"type": "log", "base": 2, "domain": [88.39, 11313.7], "range": [423, 487], "nice": false}, "axis": null}, "y": {"datum": -10, "type": "quantitative", "scale": {"domain": [-10, 120], "range": [358, 422], "nice": false, "zero": false}, "axis": null}, "text": {"field": "hz", "type": "quantitative", "format": ","}}},
  {"data": {"name": "ylabels"}, "mark": {"type": "text", "fontSize": 2.7, "align": "right", "baseline": "middle", "dx": -1.2, "color": "#333"}, "encoding": {"y": {"field": "db", "type": "quantitative", "scale": {"domain": [-10, 120], "range": [358, 422], "nice": false, "zero": false}, "axis": null}, "x": {"datum": 88.39, "type": "quantitative", "scale": {"type": "log", "base": 2, "domain": [88.39, 11313.7], "range": [423, 487], "nice": false}, "axis": null}, "text": {"field": "db", "type": "quantitative"}}},
  {"data": {"name": "e"}, "mark": {"type": "text", "text": "Frequency (Hz)", "fontSize": 3, "baseline": "bottom", "dy": -4.8, "color": "#333"}, "encoding": {"x": {"datum": 1000, "type": "quantitative", "scale": {"type": "log", "base": 2, "domain": [88.39, 11313.7], "range": [423, 487], "nice": false}, "axis": null}, "y": {"datum": -10, "type": "quantitative", "scale": {"domain": [-10, 120], "range": [358, 422], "nice": false, "zero": false}, "axis": null}}},
  {"data": {"name": "e"}, "mark": {"type": "text", "text": "Hearing Level (dB)", "fontSize": 3, "angle": 270, "baseline": "middle", "dy": -7.5, "color": "#333"}, "encoding": {"x": {"datum": 88.39, "type": "quantitative", "scale": {"type": "log", "base": 2, "domain": [88.39, 11313.7], "range": [423, 487], "nice": false}, "axis": null}, "y": {"datum": 55, "type": "quantitative", "scale": {"domain": [-10, 120], "range": [358, 422], "nice": false, "zero": false}, "axis": null}}},
  {"data": {"name": "e"}, "mark": {"type": "text", "text": "II-2", "font": "Liberation Serif", "fontSize": 7, "align": "left", "baseline": "bottom", "dx": -4.4, "dy": -4.6, "color": "#222"}, "encoding": {"x": {"datum": 88.39, "type": "quantitative", "scale": {"type": "log", "base": 2, "domain": [88.39, 11313.7], "range": [423, 487], "nice": false}, "axis": null}, "y": {"datum": -10, "type": "quantitative", "scale": {"domain": [-10, 120], "range": [358, 422], "nice": false, "zero": false}, "axis": null}}}
 ]}
]
}
